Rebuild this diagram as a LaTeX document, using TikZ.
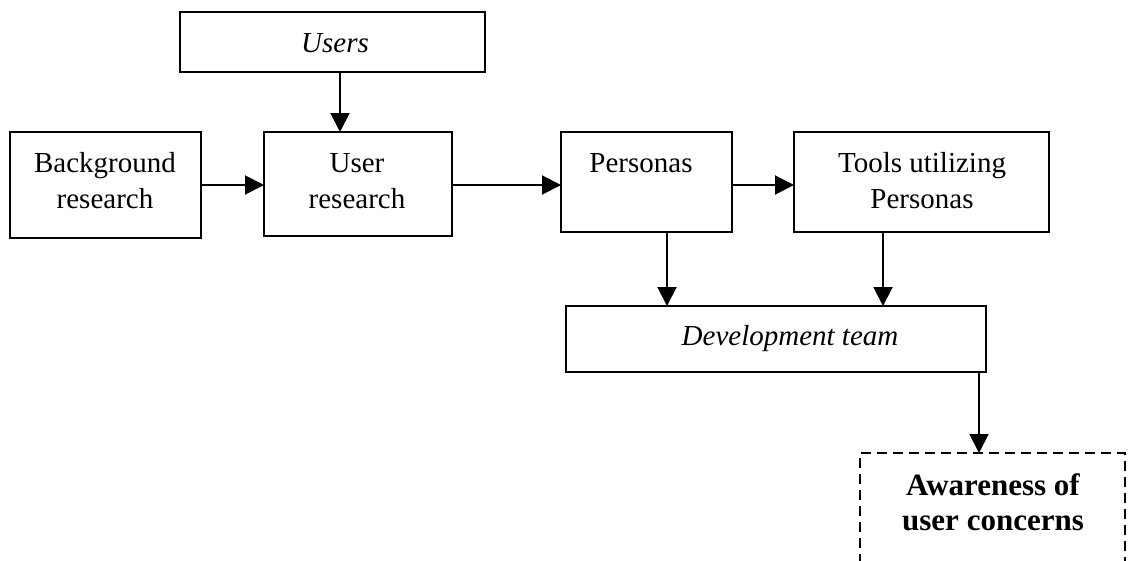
\documentclass[tikz,border=0pt]{standalone}
\usepackage{fontspec}
\setmainfont{Liberation Serif}
\usetikzlibrary{arrows.meta}
\tikzset{
  box/.style={draw, rectangle, line width=2pt, inner sep=0pt, outer sep=0pt},
  dbox/.style={box, dash pattern=on 10pt off 6pt},
  txt/.style={anchor=base, align=center, inner sep=0pt, font=\fontsize{29}{36}\selectfont},
  btxt/.style={anchor=base, align=center, inner sep=0pt, font=\fontsize{31}{35}\selectfont\bfseries},
  arr/.style={-{Triangle[length=19pt,width=19pt]}, line width=2pt}
}
\begin{document}
\begin{tikzpicture}[x=1pt,y=-1pt]
\useasboundingbox (0,0) rectangle (1130,560);
% boxes
\node[box, minimum width=305pt, minimum height=60pt] (users) at (332.5,42) {};
\node[box, minimum width=191pt, minimum height=106pt] (br) at (105.5,185) {};
\node[box, minimum width=188pt, minimum height=104pt] (ur) at (358,184) {};
\node[box, minimum width=171pt, minimum height=100pt] (pers) at (646.5,182) {};
\node[box, minimum width=255pt, minimum height=100pt] (tools) at (921.5,182) {};
\node[box, minimum width=420pt, minimum height=66pt] (dev) at (776,339) {};
\node[dbox, minimum width=265pt, minimum height=137pt] (aw) at (992.5,521.5) {};
% texts (base anchor = last line's baseline)
\node[txt] (tusers) at (335,52) {\itshape Users};
\node[txt] (tbr) at (105,208) {Background\\research};
\node[txt] (tur) at (357,208) {User\\research};
\node[txt] (tpers) at (641,172) {Personas};
\node[txt] (ttools) at (922,208) {Tools utilizing\\Personas};
\node[txt] (tdev) at (790,345) {\itshape Development team};
\node[btxt] (taw) at (993,530) {Awareness of\\user concerns};
% arrow x positions
\coordinate (xa) at (340,0);
\coordinate (xb) at (667,0);
\coordinate (xc) at (883,0);
\coordinate (xd) at (979,0);
\coordinate (yh) at (0,185);
% connectors
\draw[arr] (users.south -| xa) -- (ur.north -| xa);
\draw[arr] (br.east |- yh) -- (ur.west |- yh);
\draw[arr] (ur.east |- yh) -- (pers.west |- yh);
\draw[arr] (pers.east |- yh) -- (tools.west |- yh);
\draw[arr] (pers.south -| xb) -- (dev.north -| xb);
\draw[arr] (tools.south -| xc) -- (dev.north -| xc);
\draw[arr] (dev.south -| xd) -- (aw.north -| xd);
\end{tikzpicture}
\end{document}
